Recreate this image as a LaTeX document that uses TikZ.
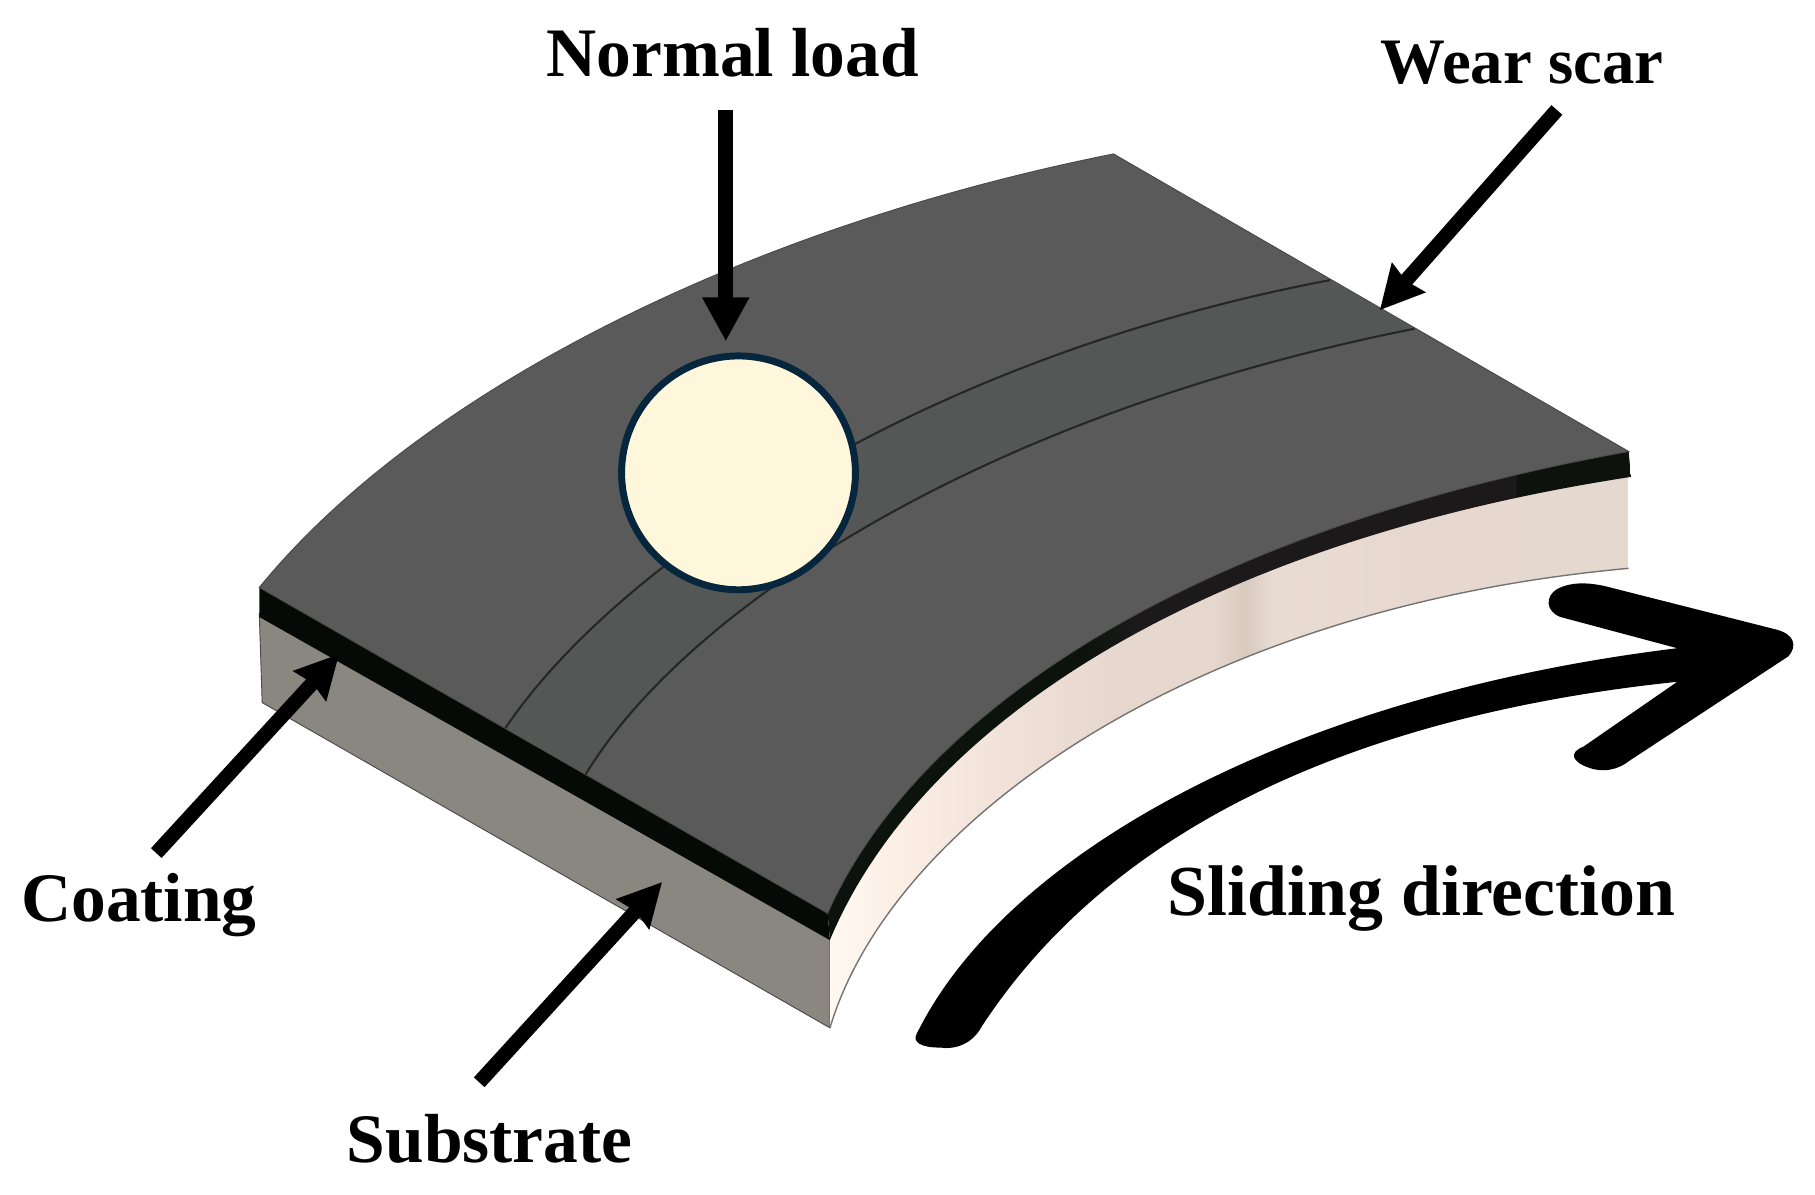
\documentclass[tikz,border=0pt]{standalone}
\usepackage{fontspec}
\setmainfont{Liberation Serif}
\usetikzlibrary{arrows.meta}
\definecolor{surf}{HTML}{5A5A5A}
\definecolor{scar}{HTML}{545755}
\definecolor{edgeg}{HTML}{4A4A4A}
\definecolor{front}{HTML}{8A8680}
\definecolor{coat}{HTML}{060A06}
\definecolor{ballf}{HTML}{FFF7DC}
\definecolor{balle}{HTML}{05263C}
\definecolor{ca}{HTML}{FFF9F2}
\definecolor{cb}{HTML}{FCEFE6}
\definecolor{cc}{HTML}{F1E3D9}
\definecolor{cd}{HTML}{E6D8CE}
\definecolor{ce}{HTML}{D8CABF}
\definecolor{cf}{HTML}{E9DCD3}
\definecolor{cg}{HTML}{E3D7CF}
\definecolor{da}{HTML}{0C120C}
\definecolor{db}{HTML}{1B191A}
\definecolor{dc}{HTML}{0E120C}
\pgfdeclarehorizontalshading{creamshade}{100bp}{color(0bp)=(ca); color(25bp)=(ca); color(28.8bp)=(cb); color(35.4bp)=(cc); color(42.6bp)=(cd); color(49bp)=(cd); color(51bp)=(ce); color(52.8bp)=(cf); color(62bp)=(cd); color(100bp)=(cg)}
\pgfdeclarehorizontalshading{coatshade}{100bp}{color(0bp)=(da); color(41bp)=(da); color(44bp)=(db); color(67.8bp)=(db); color(67.9bp)=(dc); color(100bp)=(dc)}
\tikzset{
  lbl/.style={font=\bfseries, text=black, inner sep=0pt, anchor=base},
  pointer/.style={line width=12.5pt, draw=black, -{Stealth[length=37pt,width=37pt,inset=3pt]}},
  flatpointer/.style={line width=13pt, draw=black, -{Stealth[length=38pt,width=38pt,inset=0pt]}},
  scarline/.style={draw=black!85, line width=1.8pt},
}
\begin{document}
\begin{tikzpicture}[x=1pt,y=-1pt]
\useasboundingbox (0,0) rectangle (1568,1032);
\fill[white] (0,0) rectangle (1568,1032);
% substrate front
\fill[front,draw=edgeg,line width=0.8pt] (224,530) -- (226.5,607) -- (717,888) -- (717,812) -- cycle;
% substrate curved side
\path[shading=creamshade] (717,812) .. controls (793,630) and (1030,470) .. (1407,412)
  -- (1407,491) .. controls (1030,525) and (770,710) .. (717,888) -- cycle;
\draw[black!55,line width=1.2pt] (1407,491) .. controls (1030,525) and (770,710) .. (717,888);
% coating front and curved side
\fill[coat] (224,507.5) -- (715,789) -- (717,812) -- (224,533) -- cycle;
\path[shading=coatshade] (715,789) .. controls (790,620) and (1020,460) .. (1407,390)
  -- (1409,412) .. controls (1030,470) and (793,630) .. (717,812) -- cycle;
% top surface
\path[fill=surf,draw=edgeg,line width=0.8pt] (224,507.5) .. controls (365,335) and (650,195) .. (962,133)
  -- (1407,390) .. controls (1020,460) and (790,620) .. (715,789) -- cycle;
% wear scar band
\fill[scar] (436.6,629) .. controls (530,490) and (790,310) .. (1149,242)
  -- (1222,284) .. controls (840,360) and (590,530) .. (506,669) -- cycle;
\draw[scarline] (436.6,629) .. controls (530,490) and (790,310) .. (1149,242);
\draw[scarline] (506,669) .. controls (590,530) and (840,360) .. (1222,284);
% ball
\node[circle,name=ball,minimum size=202pt,inner sep=0pt,fill=ballf,draw=balle,line width=6pt] at (638,408.5) {};
% sliding direction arrow
\fill[black] (792,893) .. controls (870,735) and (1120,600) .. (1449,560)
  -- (1348,533) .. controls (1335,528) and (1335,515) .. (1345,509) .. controls (1358,502) and (1375,503) .. (1393,508)
  -- (1535,544) .. controls (1550,548) and (1553,558) .. (1545,567)
  -- (1408,657) .. controls (1398,665) and (1385,668) .. (1372,663) .. controls (1358,658) and (1355,650) .. (1368,645)
  -- (1449,589) .. controls (1200,615) and (970,700) .. (848,887)
  .. controls (840,902) and (825,907) .. (812,905) .. controls (795,905) and (788,900) .. (792,893) -- cycle;
% labels
\node[lbl,name=lnormal] at (633,66) {\fontsize{60}{60}\selectfont Normal load};
\node[lbl,name=lwear] at (1315,72) {\fontsize{56}{56}\selectfont Wear scar};
\node[lbl,name=lcoat] at (120,796) {\fontsize{60}{60}\selectfont Coating};
\node[lbl,name=lsub] at (423,1004) {\fontsize{60}{60}\selectfont Substrate};
\node[lbl,name=lslide] at (1228,791) {\fontsize{62}{62}\selectfont Sliding direction};
% pointers
\coordinate (ntail) at (627,95);
\coordinate (ntip) at (627,295);
\coordinate (wtail) at (1345,95);
\coordinate (wtip) at (1192,268);
\coordinate (ctail) at (135,737);
\coordinate (ctip) at (293,565);
\coordinate (stail) at (414,935);
\coordinate (stip) at (572,762);
\draw[flatpointer] (ntail) -- (ntip);
\draw[pointer] (wtail) -- (wtip);
\draw[pointer] (ctail) -- (ctip);
\draw[pointer] (stail) -- (stip);
\end{tikzpicture}
\end{document}
